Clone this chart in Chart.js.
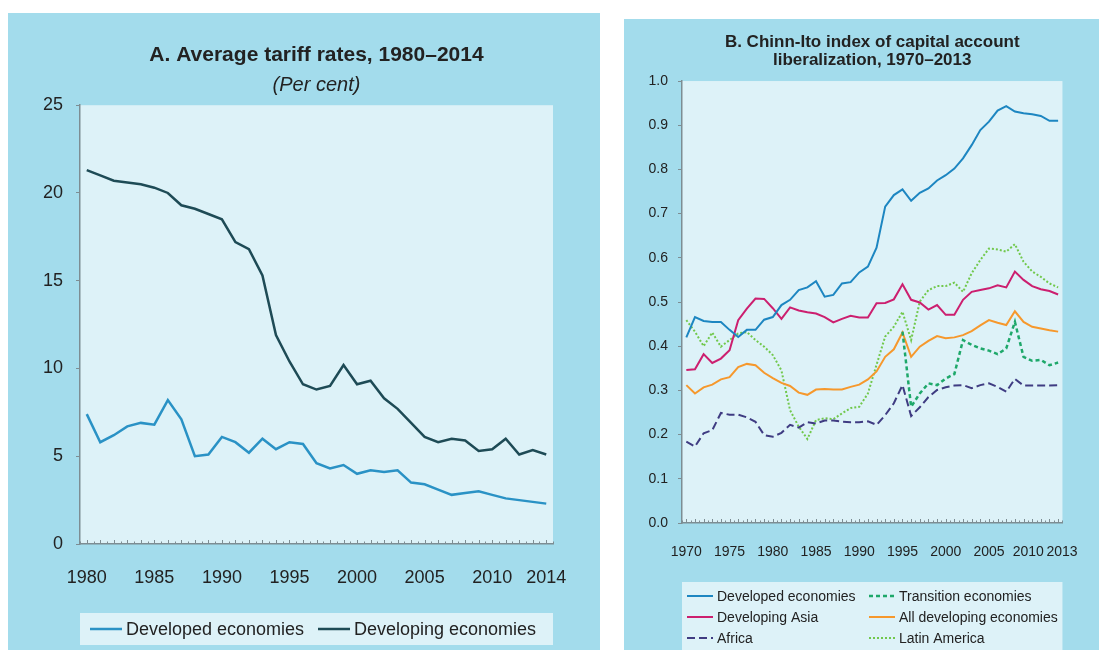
<!DOCTYPE html>
<html lang="en">
<head>
<meta charset="UTF-8">
<title>Tariffs and capital account liberalization</title>
<script src="https://cdn.jsdelivr.net/npm/chart.js@4.4.1/dist/chart.umd.min.js"></script>
<style>
  body { margin: 0; background: #fff; }
  canvas { position: absolute; background: #a3dcec; }
  #tariffs { left: 8px; top: 13px; }
  #chinnIto { left: 624px; top: 19px; }
</style>
</head>
<body>
<canvas id="tariffs" width="592" height="637"></canvas>
<canvas id="chinnIto" width="475" height="631"></canvas>
<script>
// Panel A: average tariff rates, per cent
const tariffYears = [];
for (let y = 1980; y <= 2014; y++) tariffYears.push(String(y));
const tariffDeveloped = [7.4, 5.8, 6.2, 6.7, 6.9, 6.8, 8.2, 7.1, 5.0, 5.1,
  6.1, 5.8, 5.2, 6.0, 5.4, 5.8, 5.7, 4.6, 4.3, 4.5,
  4.0, 4.2, 4.1, 4.2, 3.5, 3.4, 3.1, 2.8, 2.9, 3.0,
  2.8, 2.6, 2.5, 2.4, 2.3];
const tariffDeveloping = [21.3, 21.0, 20.7, 20.6, 20.5, 20.3, 20.0, 19.3, 19.1, 18.8,
  18.5, 17.2, 16.8, 15.3, 11.9, 10.4, 9.1, 8.8, 9.0, 10.2,
  9.1, 9.3, 8.3, 7.7, 6.9, 6.1, 5.8, 6.0, 5.9, 5.3,
  5.4, 6.0, 5.1, 5.35, 5.1];

// Panel B: Chinn-Ito index, 1970-2013
const kaopenYears = [];
for (let y = 1970; y <= 2013; y++) kaopenYears.push(String(y));
const kaDeveloped = [0.42, 0.466, 0.457, 0.455, 0.455, 0.437, 0.421, 0.437, 0.437, 0.46,
  0.466, 0.493, 0.505, 0.527, 0.533, 0.547, 0.512, 0.516, 0.542, 0.545,
  0.567, 0.58, 0.623, 0.716, 0.742, 0.755, 0.729, 0.747, 0.757, 0.775,
  0.787, 0.802, 0.825, 0.855, 0.889, 0.908, 0.933, 0.943, 0.931, 0.927,
  0.925, 0.921, 0.91, 0.91];
const kaTransition = [null, null, null, null, null, null, null, null, null, null,
  null, null, null, null, null, null, null, null, null, null,
  null, null, null, null, null, 0.433, 0.263, 0.293, 0.316, 0.312,
  0.327, 0.337, 0.414, 0.403, 0.395, 0.39, 0.382, 0.395, 0.455, 0.376,
  0.367, 0.369, 0.357, 0.363];
const kaDevAsia = [0.346, 0.348, 0.382, 0.362, 0.372, 0.391, 0.459, 0.485, 0.508, 0.507,
  0.486, 0.462, 0.488, 0.481, 0.477, 0.474, 0.466, 0.454, 0.462, 0.469,
  0.465, 0.465, 0.497, 0.498, 0.506, 0.54, 0.505, 0.499, 0.483, 0.493,
  0.471, 0.471, 0.505, 0.523, 0.527, 0.531, 0.538, 0.533, 0.569, 0.55,
  0.536, 0.529, 0.525, 0.517];
const kaAllDeveloping = [0.312, 0.293, 0.307, 0.313, 0.325, 0.33, 0.353, 0.36, 0.357, 0.34,
  0.328, 0.317, 0.31, 0.295, 0.29, 0.302, 0.303, 0.302, 0.302, 0.308,
  0.313, 0.325, 0.343, 0.376, 0.393, 0.431, 0.376, 0.399, 0.412, 0.423,
  0.418, 0.42, 0.425, 0.434, 0.447, 0.459, 0.453, 0.448, 0.479, 0.455,
  0.444, 0.44, 0.436, 0.433];
const kaAfrica = [0.184, 0.173, 0.203, 0.21, 0.249, 0.245, 0.245, 0.239, 0.229, 0.199,
  0.195, 0.204, 0.222, 0.216, 0.228, 0.225, 0.232, 0.232, 0.229, 0.228,
  0.228, 0.23, 0.222, 0.244, 0.271, 0.312, 0.242, 0.262, 0.285, 0.301,
  0.307, 0.311, 0.312, 0.305, 0.312, 0.316, 0.308, 0.297, 0.326, 0.311,
  0.311, 0.311, 0.311, 0.312];
const kaLatAm = [0.459, 0.433, 0.40, 0.431, 0.399, 0.414, 0.429, 0.432, 0.414, 0.399,
  0.38, 0.345, 0.255, 0.218, 0.19, 0.233, 0.237, 0.235, 0.248, 0.26,
  0.263, 0.293, 0.358, 0.422, 0.444, 0.478, 0.414, 0.501, 0.527, 0.536,
  0.536, 0.544, 0.523, 0.565, 0.595, 0.621, 0.619, 0.614, 0.631, 0.591,
  0.569, 0.557, 0.542, 0.533];

const FONT = "'Liberation Sans', Arial, Helvetica, sans-serif";
const TEXT = '#222';
const AXIS = '#7d8d93';
Chart.defaults.font.family = FONT;
Chart.defaults.color = TEXT;

// plot background, legend box, little year marks and a fixed-column legend
const panelDecor = {
  id: 'panelDecor',
  beforeDraw(chart, args, o) {
    const { ctx, chartArea: a } = chart;
    ctx.save();
    ctx.fillStyle = o.plotColor;
    ctx.fillRect(a.left, a.top, a.width, a.height);
    ctx.fillRect(a.left, a.bottom + o.legendTop, a.width, o.legendHeight);
    ctx.restore();
  },
  afterDraw(chart, args, o) {
    const { ctx, chartArea: a } = chart;
    const x = chart.scales.x;
    const n = chart.data.labels.length;
    const step = x.getPixelForValue(1) - x.getPixelForValue(0);
    ctx.save();
    ctx.strokeStyle = AXIS;
    ctx.lineWidth = 1;
    ctx.beginPath();
    for (let i = 0; i <= n; i++) {
      const edge = Math.round(x.getPixelForValue(i) - step / 2) + 0.5;
      ctx.moveTo(edge, a.bottom);
      ctx.lineTo(edge, a.bottom - o.tickShort);
      if (i < n) {
        const mid = Math.round(x.getPixelForValue(i)) + 0.5;
        ctx.moveTo(mid, a.bottom);
        ctx.lineTo(mid, a.bottom - o.tickLong);
      }
    }
    ctx.stroke();

    ctx.font = o.font;
    ctx.textBaseline = 'middle';
    ctx.textAlign = 'left';
    chart.data.datasets.forEach((ds, i) => {
      const col = i % o.columns;
      const row = Math.floor(i / o.columns);
      const lx = a.left + o.columnX[col];
      const ly = a.bottom + o.legendTop + o.firstRow + row * o.rowHeight;
      ctx.save();
      ctx.strokeStyle = ds.borderColor;
      ctx.lineWidth = ds.borderWidth;
      ctx.setLineDash(ds.borderDash || []);
      ctx.beginPath();
      ctx.moveTo(lx, ly);
      ctx.lineTo(lx + o.lineLength, ly);
      ctx.stroke();
      ctx.restore();
      ctx.fillStyle = TEXT;
      ctx.fillText(ds.label, lx + o.lineLength + o.gap, ly + 1);
    });
    ctx.restore();
  }
};

new Chart(document.getElementById('tariffs'), {
  type: 'line',
  data: {
    labels: tariffYears,
    datasets: [
      { label: 'Developed economies', data: tariffDeveloped, borderColor: '#2a92c5', borderWidth: 2.5 },
      { label: 'Developing economies', data: tariffDeveloping, borderColor: '#1e4b56', borderWidth: 2.5 }
    ]
  },
  options: {
    responsive: false,
    animation: false,
    events: [],
    elements: { point: { radius: 0 }, line: { tension: 0 } },
    layout: { padding: { left: 0, right: 47, top: 0, bottom: 56 } },
    scales: {
      x: {
        offset: true,
        grid: { display: false, drawTicks: false },
        border: { color: AXIS, width: 1.5 },
        afterFit: s => { s.height = 50; },
        ticks: {
          autoSkip: false, maxRotation: 0, padding: 23,
          font: { size: 18 }, color: TEXT,
          callback(v) {
            const y = Number(this.getLabelForValue(v));
            return (y % 5 === 0 || y === 2014) ? String(y) : '';
          }
        }
      },
      y: {
        min: 0, max: 25,
        grid: { drawOnChartArea: false, drawTicks: true, tickLength: 4, color: AXIS },
        border: { color: AXIS, width: 1.5 },
        afterFit: s => { s.width = 72; },
        ticks: { stepSize: 5, padding: 13, font: { size: 18 }, color: TEXT }
      }
    },
    plugins: {
      legend: { display: false },
      tooltip: { enabled: false },
      // titles centred over the plot area, not the whole canvas
      title: {
        display: true,
        fullSize: false,
        text: 'A. Average tariff rates, 1980–2014',
        font: { size: 21, weight: 'bold' },
        color: TEXT,
        padding: { top: 30, bottom: 3 }
      },
      subtitle: {
        display: true,
        fullSize: false,
        text: '(Per cent)',
        font: { size: 20, style: 'italic' },
        color: TEXT,
        padding: { top: 2, bottom: 8 }
      },
      panelDecor: {
        plotColor: '#ddf2f8',
        legendTop: 69, legendHeight: 32, firstRow: 16, rowHeight: 21,
        columns: 2, columnX: [10, 238], lineLength: 32, gap: 4,
        tickLong: 4, tickShort: 2.5,
        font: '18px ' + FONT
      }
    }
  },
  plugins: [panelDecor]
});

new Chart(document.getElementById('chinnIto'), {
  type: 'line',
  data: {
    labels: kaopenYears,
    datasets: [
      { label: 'Developed economies', data: kaDeveloped, borderColor: '#1d86c1', borderWidth: 2 },
      { label: 'Transition economies', data: kaTransition, borderColor: '#1ea86a', borderWidth: 2.5, borderDash: [4, 3] },
      { label: 'Developing Asia', data: kaDevAsia, borderColor: '#cc1f6f', borderWidth: 2 },
      { label: 'All developing economies', data: kaAllDeveloping, borderColor: '#f6982c', borderWidth: 2 },
      { label: 'Africa', data: kaAfrica, borderColor: '#3f3c82', borderWidth: 2, borderDash: [8, 4] },
      { label: 'Latin America', data: kaLatAm, borderColor: '#71c84c', borderWidth: 2, borderDash: [2, 2] }
    ]
  },
  options: {
    responsive: false,
    animation: false,
    events: [],
    elements: { point: { radius: 0 }, line: { tension: 0 } },
    layout: { padding: { left: 0, right: 32, top: 0, bottom: 87 } },
    scales: {
      x: {
        offset: true,
        grid: { display: false, drawTicks: false },
        border: { color: AXIS, width: 1.5 },
        afterFit: s => { s.height = 40; },
        ticks: {
          autoSkip: false, maxRotation: 0, padding: 21,
          font: { size: 14 }, color: TEXT,
          callback(v) {
            const y = Number(this.getLabelForValue(v));
            if (y === 2010) return '2010  ';
            if (y === 2013) return '  2013';
            return y % 5 === 0 ? String(y) : '';
          }
        }
      },
      y: {
        min: 0, max: 1,
        grid: { drawOnChartArea: false, drawTicks: true, tickLength: 4, color: AXIS },
        border: { color: AXIS, width: 1.5 },
        afterFit: s => { s.width = 58; },
        ticks: { stepSize: 0.1, padding: 10, font: { size: 14 }, color: TEXT, callback: v => v.toFixed(1) }
      }
    },
    plugins: {
      legend: { display: false },
      tooltip: { enabled: false },
      title: {
        display: true,
        fullSize: false,
        text: ['B. Chinn-Ito index of capital account', 'liberalization, 1970–2013'],
        font: { size: 17, weight: 'bold', lineHeight: 1.06 },
        color: TEXT,
        padding: { top: 14, bottom: 12 }
      },
      panelDecor: {
        plotColor: '#ddf2f8',
        legendTop: 59, legendHeight: 80, firstRow: 14, rowHeight: 21,
        columns: 2, columnX: [5, 187], lineLength: 26, gap: 4,
        tickLong: 4, tickShort: 2.5,
        font: '14px ' + FONT
      }
    }
  },
  plugins: [panelDecor]
});
</script>
</body>
</html>
